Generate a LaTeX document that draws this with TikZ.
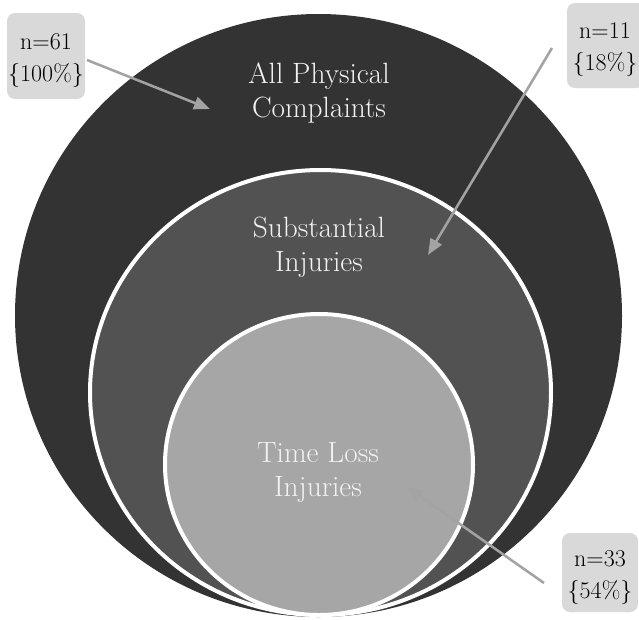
\documentclass[tikz,border=0pt]{standalone}
\usepackage{fontspec}
\usetikzlibrary{shapes.geometric,arrows.meta}
\definecolor{outerc}{HTML}{333333}
\definecolor{midc}{HTML}{525252}
\definecolor{innerc}{HTML}{A6A6A6}
\definecolor{boxc}{HTML}{D9D9D9}
\definecolor{arrc}{HTML}{A3A3A3}
\definecolor{txtc}{HTML}{F2F2F2}
\begin{document}
\begin{tikzpicture}[x=0.75pt,y=-0.75pt,
  blob/.style={ellipse,inner sep=0pt,outer sep=0pt},
  ring/.style={blob,draw=white,line width=3pt},
  ctext/.style={text=txtc,font=\fontsize{22}{25.5}\selectfont,align=center,inner sep=0pt},
  tag/.style={fill=boxc,rounded corners=6pt,inner sep=0pt},
  tagtext/.style={align=center,inner sep=0pt,font=\fontsize{18}{24}\selectfont,text=black},
  pointer/.style={draw=arrc,line width=1.9pt,-{Triangle[length=12pt,width=9.5pt]}}]
\useasboundingbox (0,0) rectangle (639,619);
\clip (0,0) rectangle (639,619);
% circles
\node[blob,fill=outerc,minimum width=455.25pt,minimum height=452.25pt] (outer) at (318.5,315.5) {};
\node[ring,fill=midc,minimum width=345.75pt,minimum height=333.75pt] (mid) at (320.5,392.5) {};
\node[ring,fill=innerc,minimum width=231pt,minimum height=225.75pt] (inner) at (319,464.5) {};
% circle labels
\node[ctext] (t1) at (319,93) {All Physical\\Complaints};
\node[ctext] (t2) at (319,247) {Substantial\\Injuries};
\node[ctext] (t3) at (318,472) {Time Loss\\Injuries};
% tags
\node[tag,minimum width=58.5pt,minimum height=64.5pt] (tag1) at (46,56) {};
\node[tag,minimum width=58.5pt,minimum height=63.75pt] (tag2) at (606,45.5) {};
\node[tag,minimum width=57pt,minimum height=59.25pt] (tag3) at (600,572.5) {};
\node[tagtext] (tag1t) at (46,61) {n=61\\\{100\%\}};
\node[tagtext] (tag2t) at (605,50) {n=11\\\{18\%\}};
\node[tagtext] (tag3t) at (600,578) {n=33\\\{54\%\}};
% pointer ends
\coordinate (p1s) at (87,60);
\coordinate (p1e) at (210,109);
\coordinate (p2s) at (552,48);
\coordinate (p2e) at (428,255);
\coordinate (p3s) at (544,583);
\coordinate (p3e) at (407,487);
\draw[pointer] (p1s) -- (p1e);
\draw[pointer] (p2s) -- (p2e);
\draw[pointer] (p3s) -- (p3e);
\end{tikzpicture}
\end{document}
